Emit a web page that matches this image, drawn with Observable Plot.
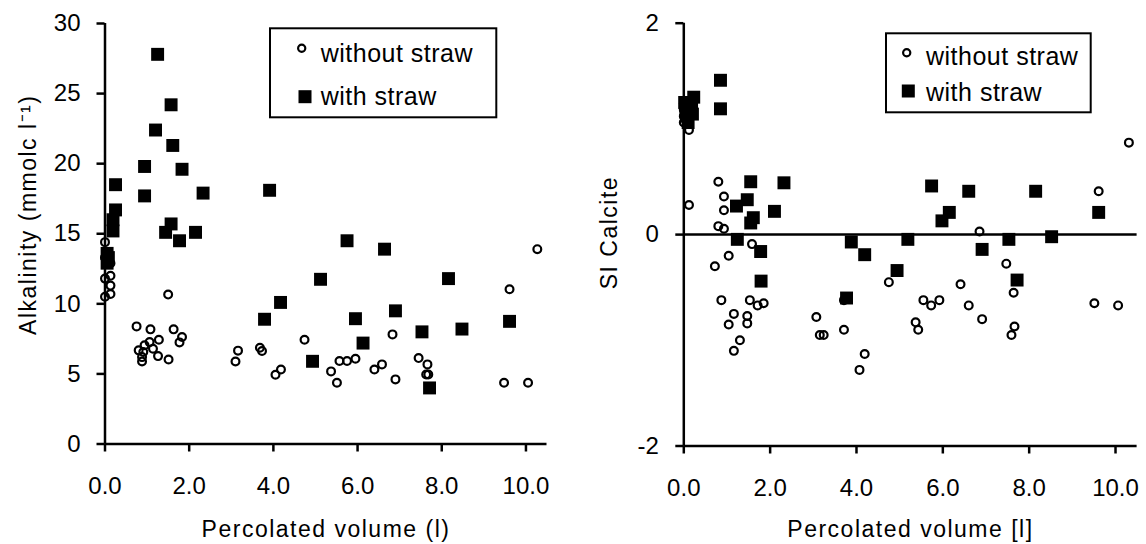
<!DOCTYPE html>
<html>
<head>
<meta charset="utf-8">
<script src="https://cdn.jsdelivr.net/npm/d3@7"></script>
<script src="https://cdn.jsdelivr.net/npm/@observablehq/plot@0.6"></script>
<style>
  html, body { margin: 0; padding: 0; background: #fff; }
  #wrap { position: relative; width: 1146px; height: 544px; display: flex; overflow: hidden;
          font-family: "Liberation Sans", Arial, sans-serif; }
  #wrap > svg { flex: none; }
  #overlay { position: absolute; left: 0; top: 0; pointer-events: none; }
</style>
</head>
<body>
<div id="wrap"></div>
<script>
// ---------- data ----------
const seriesNames = ["without straw", "with straw"];
const xTicks = [0, 2, 4, 6, 8, 10];
const alkTicks = [0, 5, 10, 15, 20, 25, 30];
const siTicks = [-2, 0, 2];

// Left panel: alkalinity (mmolc l-1) vs percolated volume (l)
const alkWithoutX = [0.0, 0.0, 0.13, 0.13, 0.0, 0.13, 0.13, 0.0,
  1.50, 0.75, 1.08, 1.63, 1.83, 1.77, 1.28, 1.06, 0.94, 1.14, 0.80, 0.91, 0.88, 0.88, 1.26, 1.51,
  3.10, 3.16, 3.68, 3.73, 4.05, 4.18, 4.74, 5.37, 5.51, 5.57, 5.75, 5.95, 6.40, 6.58, 6.83, 6.90,
  7.45, 7.66, 7.63, 7.68, 9.61, 9.48, 10.05, 10.27];
const alkWithoutY = [14.4, 13.3, 12.9, 12.0, 11.8, 11.3, 10.7, 10.5,
  10.66, 8.39, 8.18, 8.18, 7.63, 7.25, 7.44, 7.27, 7.04, 6.80, 6.68, 6.56, 6.20, 5.89, 6.27, 6.03,
  5.89, 6.66, 6.87, 6.63, 4.94, 5.32, 7.44, 5.18, 4.37, 5.92, 5.92, 6.08, 5.32, 5.68, 7.82, 4.61,
  6.13, 5.68, 4.96, 4.96, 11.04, 4.37, 4.37, 13.9];
const alkWithX = [0.05, 0.05, 0.08, 0.19, 0.19, 0.25, 0.25, 0.94, 0.94, 1.20, 1.25, 1.44, 1.57, 1.57,
  1.61, 1.77, 1.83, 2.15, 2.33, 3.79, 3.91, 4.17, 4.93, 5.12, 5.75, 5.95, 6.13, 6.64, 6.90, 7.53,
  7.71, 8.16, 8.48, 9.61];
const alkWithY = [13.6, 12.9, 13.3, 15.2, 16.0, 16.7, 18.5, 17.7, 19.8, 22.4, 27.8, 15.1, 15.7, 24.2,
  21.3, 14.5, 19.6, 15.1, 17.9, 8.9, 18.1, 10.1, 5.9, 11.75, 14.5, 8.94, 7.2, 13.9, 9.5, 8.0,
  4.0, 11.8, 8.2, 8.75];

// Right panel: SI calcite vs percolated volume [l]
const siWithoutX = [0.0, 0.0, 0.0, 0.0, 0.05, 0.05, 0.12, 0.12,
  0.80, 0.93, 0.93, 0.80, 0.93, 1.58, 1.04, 0.72, 0.87, 1.53, 1.71, 1.85, 1.16, 1.04, 1.47, 1.47,
  1.30, 1.16, 3.07, 3.15, 3.24, 3.71, 3.71, 4.19, 4.07, 4.75, 5.37, 5.43, 5.55, 5.73, 5.92, 6.41,
  6.60, 6.91, 6.85, 7.47, 7.64, 7.66, 7.59, 9.51, 10.06, 9.61, 10.31];
const siWithoutY = [1.24, 1.18, 1.12, 1.06, 1.20, 1.10, 0.99, 0.28,
  0.50, 0.36, 0.23, 0.08, 0.055, -0.09, -0.20, -0.30, -0.62, -0.62, -0.67, -0.65, -0.75, -0.85, -0.77, -0.84,
  -1.00, -1.10, -0.78, -0.95, -0.95, -0.62, -0.90, -1.13, -1.28, -0.45, -0.83, -0.90, -0.62, -0.67, -0.62, -0.47,
  -0.67, -0.80, 0.03, -0.275, -0.55, -0.87, -0.95, -0.65, -0.67, 0.41, 0.87];
const siWithX = [0.02, 0.05, 0.08, 0.10, 0.18, 0.20, 0.23, 0.85, 0.85, 1.55, 2.32, 1.47, 1.22, 2.10,
  1.61, 1.55, 1.24, 1.78, 1.79, 3.88, 4.19, 3.77, 5.74, 6.60, 8.15, 6.15, 5.98, 9.61, 5.19, 7.53,
  8.52, 6.91, 4.94, 7.72];
const siWithY = [1.25, 1.18, 1.12, 1.06, 1.22, 1.14, 1.30, 1.46, 1.19, 0.50, 0.49, 0.33, 0.27, 0.22,
  0.16, 0.11, -0.045, -0.16, -0.44, -0.07, -0.19, -0.60, 0.46, 0.41, 0.41, 0.21, 0.13, 0.21, -0.045, -0.045,
  -0.02, -0.14, -0.34, -0.43];

const xDomain = [0, 10.5];
const FONT = "Liberation Sans, Arial, sans-serif";

function zip(xs, ys) { return xs.map((x, i) => ({x, y: ys[i]})); }

function panel(o) {
  const without = zip(o.withoutX, o.withoutY);
  const withS = zip(o.withX, o.withY);
  const yd = o.yDomain;
  return Plot.plot({
    width: 573, height: 544,
    marginLeft: o.ml, marginRight: o.mr, marginTop: o.mt, marginBottom: o.mb,
    style: {fontFamily: FONT, fontSize: "24px", color: "#000", background: "#fff", overflow: "visible"},
    x: {domain: xDomain},
    y: {domain: yd},
    marks: [
      Plot.axisY({ticks: o.yTicks, tickSize: 8, tickPadding: o.ypad, strokeWidth: 2.5, fontSize: 24,
                  tickFormat: d => String(d), label: null}),
      Plot.axisX({ticks: xTicks, tickSize: 8, tickPadding: 25, strokeWidth: 2.5, fontSize: 24,
                  tickFormat: d3.format(".1f"), label: null}),
      Plot.ruleX([0], {y1: yd[0], y2: yd[1], stroke: "#000", strokeWidth: 2.5}),
      Plot.ruleY([yd[0]], {x1: xDomain[0], x2: xDomain[1], stroke: "#000", strokeWidth: 2.5}),
      o.zeroLine ? Plot.ruleY([0], {x1: xDomain[0], x2: xDomain[1], stroke: "#000", strokeWidth: 2.5}) : null,
      Plot.dot(without, {x: "x", y: "y", r: 3.9, stroke: "#000", strokeWidth: 2.2, fill: "none"}),
      Plot.dot(withS, {x: "x", y: "y", symbol: "square", r: 7.3, fill: "#000", stroke: "none"}),
      Plot.text([o.xLabel], {frameAnchor: "bottom", textAnchor: "middle", lineAnchor: "middle",
                             dy: o.xdy, fontSize: 23, fill: "#000"}),
      Plot.text([o.yLabel], {frameAnchor: "left", textAnchor: "middle", lineAnchor: "middle",
                             rotate: -90, dx: o.ydx, dy: o.ydy, fontSize: 23, fill: "#000"})
    ]
  });
}

const wrap = document.getElementById("wrap");
const left = panel({
  withoutX: alkWithoutX, withoutY: alkWithoutY, withX: alkWithX, withY: alkWithY,
  yDomain: [0, 30], yTicks: alkTicks, ml: 104.5, mr: 26.5, mt: 23, mb: 100.5, ypad: 16.5, xdy: 86,
  xLabel: "Percolated volume (l)", yLabel: "Alkalinity (mmolc l\u207B\u00B9)", ydx: -76, ydy: -19, zeroLine: false
});
const right = panel({
  withoutX: siWithoutX, withoutY: siWithoutY, withX: siWithX, withY: siWithY,
  yDomain: [-2, 2], yTicks: siTicks, ml: 110.3, mr: 9.4, mt: 22.7, mb: 98.5, ypad: 17, xdy: 84,
  xLabel: "Percolated volume [l]", yLabel: "SI Calcite", ydx: -74.3, ydy: -2, zeroLine: true
});
wrap.appendChild(left);
wrap.appendChild(right);

// letter spacing on axis titles
d3.select(wrap).selectAll("svg text").filter(function() {
  const t = this.textContent;
  return t.startsWith("Percolated") || t.startsWith("Alkalinity") || t.startsWith("SI ");
}).style("letter-spacing", "1.5px");

// ---------- legends ----------
const overlay = d3.select(wrap).append("svg").attr("id", "overlay")
  .attr("width", 1146).attr("height", 544);

function legend(box, items, fontSize) {
  const g = overlay.append("g");
  g.append("rect").attr("x", box.x).attr("y", box.y).attr("width", box.w).attr("height", box.h)
    .attr("fill", "#fff").attr("stroke", "#000").attr("stroke-width", 2);
  items.forEach((it, i) => {
    if (i === 0) {
      g.append("circle").attr("cx", it.sx).attr("cy", it.sy).attr("r", 3.6)
        .attr("fill", "none").attr("stroke", "#000").attr("stroke-width", 2.2);
    } else {
      g.append("rect").attr("x", it.sx - 6.5).attr("y", it.sy - 6.5).attr("width", 13).attr("height", 13)
        .attr("fill", "#000");
    }
    g.append("text").attr("x", it.tx).attr("y", it.ty).text(seriesNames[i])
      .attr("font-family", FONT).attr("font-size", fontSize).attr("letter-spacing", "0.5px")
      .attr("fill", "#000");
  });
}
legend({x: 270, y: 28.3, w: 226.3, h: 89}, [
  {sx: 301.7, sy: 48.3, tx: 320.7, ty: 62},
  {sx: 305, sy: 96.7, tx: 320.7, ty: 105}
], 25);
legend({x: 886, y: 33.3, w: 204.7, h: 79}, [
  {sx: 906.7, sy: 52.7, tx: 926, ty: 65},
  {sx: 908.3, sy: 91, tx: 926, ty: 101}
], 25);
</script>
</body>
</html>
